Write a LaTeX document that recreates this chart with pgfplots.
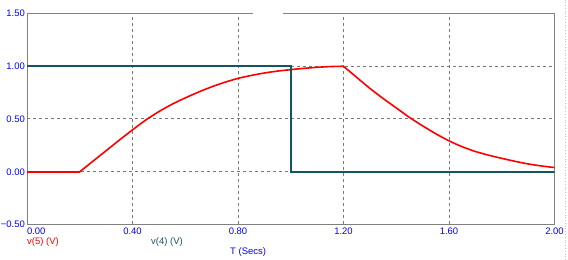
\documentclass[border=0pt]{standalone}
\usepackage{fontspec}
\setmainfont{Liberation Sans}
\usepackage{pgfplots}
\pgfplotsset{compat=1.18}
\definecolor{tickblue}{RGB}{0,0,255}
\definecolor{tealv}{RGB}{20,85,100}
\definecolor{gridc}{RGB}{112,128,112}
\definecolor{framec}{RGB}{128,128,128}
\definecolor{edgec}{RGB}{185,195,230}
\begin{document}
\begin{tikzpicture}
\useasboundingbox (0,0) rectangle (568bp,260bp);
\begin{axis}[
  at={(27bp,35.5bp)}, anchor=south west,
  scale only axis, width=527.5bp, height=211bp,
  xmin=0, xmax=2, ymin=-0.5, ymax=1.5,
  xtick={0,0.4,0.8,1.2,1.6,2.0},
  xticklabels={\makebox[0pt][l]{0.00},0.40,0.80,1.20,1.60,2.00},
  ytick={-0.5,0,0.5,1,1.5},
  yticklabels={−0.50,0.00,0.50,1.00,1.50},
  major tick length=0pt,
  grid=major,
  major grid style={color=gridc, line width=1bp, dash pattern=on 3bp off 3bp},
  axis line style={color=framec, line width=1bp},
  tick label style={font=\fontsize{9.5}{10}\selectfont, text=tickblue, inner sep=0pt},
  xticklabel style={anchor=center, yshift=-7.2bp},
  yticklabel style={anchor=east, xshift=-2bp},
  /pgf/number format/assume math mode=true,
]
\addplot[color=red, line width=1.6bp] coordinates {(0,0) (0.2,0)};
\addplot[color=red, line width=1.6bp, smooth, tension=0.4] coordinates {
(0.2,0) (0.25,0.10) (0.3,0.20) (0.35,0.30) (0.4,0.397) (0.45,0.49)
(0.5,0.57) (0.55,0.64) (0.6,0.70) (0.65,0.755) (0.7,0.805) (0.75,0.848)
(0.8,0.885) (0.85,0.913) (0.9,0.936) (0.95,0.954) (1.0,0.968) (1.05,0.98)
(1.1,0.99) (1.15,0.997) (1.2,1.0)
};
\addplot[color=red, line width=1.6bp, smooth, tension=0.4] coordinates {
(1.2,1.0) (1.25,0.895) (1.3,0.79) (1.35,0.695) (1.4,0.605) (1.45,0.515)
(1.5,0.435) (1.55,0.36) (1.6,0.293) (1.65,0.237) (1.7,0.192) (1.75,0.157)
(1.8,0.127) (1.85,0.099) (1.9,0.074) (1.95,0.055) (2.0,0.04)
};
\addplot[color=tealv, line width=1.6bp] coordinates {
(0,1) (1.0,1) (1.0,0) (2.0,0)
};
\end{axis}
\fill[white] (253bp,245bp) rectangle (283bp,248bp);
\draw[edgec, dotted, line width=0.8bp] (565bp,0) -- (565bp,260bp);
\node[anchor=west, inner sep=0pt, text=red, font=\fontsize{9.5}{10}\selectfont] at (27bp,18bp) {v(5) (V)};
\node[anchor=west, inner sep=0pt, text=tealv, font=\fontsize{9.5}{10}\selectfont] at (151bp,18bp) {v(4) (V)};
\node[anchor=west, inner sep=0pt, text=tickblue, font=\fontsize{9.5}{10}\selectfont] at (230bp,8bp) {T (Secs)};
\end{tikzpicture}
\end{document}
